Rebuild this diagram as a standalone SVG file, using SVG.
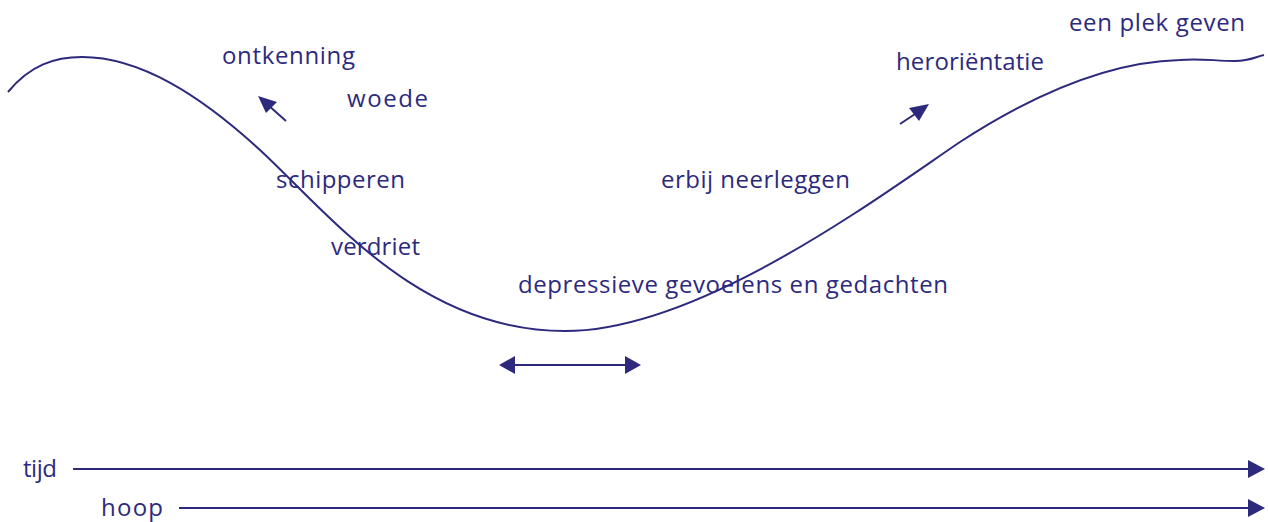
<svg xmlns="http://www.w3.org/2000/svg" width="1268" height="522" viewBox="0 0 1268 522">
<style>
.t{font-family:"Open Sans","Lato",sans-serif;font-size:24px;fill:#2d2a7e}
.ln{stroke:#2d2a7e;stroke-width:2;fill:none}
.hd{fill:#2d2a7e}
</style>
<rect width="1268" height="522" fill="#fff"/>
<g id="curve"><path class="ln" d="M8,92 C30,65 55,57 82,57 C140,57 200,95 260,150 C330,215 420,331 565,331 C700,331 880,196 960,142 C1020,103 1100,62 1180,60 C1200,58 1215,61 1235,61 C1250,61 1255,57 1264,55"/></g>
<g id="labels">
<text class="t" x="222" y="64" textLength="133" lengthAdjust="spacing">ontkenning</text>
<text class="t" x="347" y="107" textLength="81" lengthAdjust="spacing">woede</text>
<text class="t" x="276" y="188" textLength="129" lengthAdjust="spacing">schipperen</text>
<text class="t" x="331" y="255" textLength="89" lengthAdjust="spacing">verdriet</text>
<text class="t" x="518" y="293" textLength="430" lengthAdjust="spacing">depressieve gevoelens en gedachten</text>
<text class="t" x="661" y="188" textLength="189" lengthAdjust="spacing">erbij neerleggen</text>
<text class="t" x="896" y="70" textLength="148" lengthAdjust="spacing">heroriëntatie</text>
<text class="t" x="1069" y="31" textLength="176" lengthAdjust="spacing">een plek geven</text>
<text class="t" x="23" y="477" textLength="34" lengthAdjust="spacing">tijd</text>
<text class="t" x="101" y="516" textLength="62" lengthAdjust="spacing">hoop</text>
</g>
<g id="connectors">
<line class="ln" x1="286" y1="121" x2="268" y2="105"/>
<path class="hd" d="M258,96 L277,102 L266,113 Z"/>
<line class="ln" x1="900" y1="124" x2="918" y2="112"/>
<path class="hd" d="M929,104 L909,108 L919,121 Z"/>
<line class="ln" x1="510" y1="365" x2="630" y2="365"/>
<path class="hd" d="M499,365 L515,356 L515,374 Z"/>
<path class="hd" d="M641,365 L625,356 L625,374 Z"/>
<line class="ln" x1="73" y1="469" x2="1250" y2="469"/>
<path class="hd" d="M1265,469 L1248,460 L1248,478 Z"/>
<line class="ln" x1="179" y1="508" x2="1250" y2="508"/>
<path class="hd" d="M1265,508 L1248,499 L1248,517 Z"/>
</g>
</svg>
